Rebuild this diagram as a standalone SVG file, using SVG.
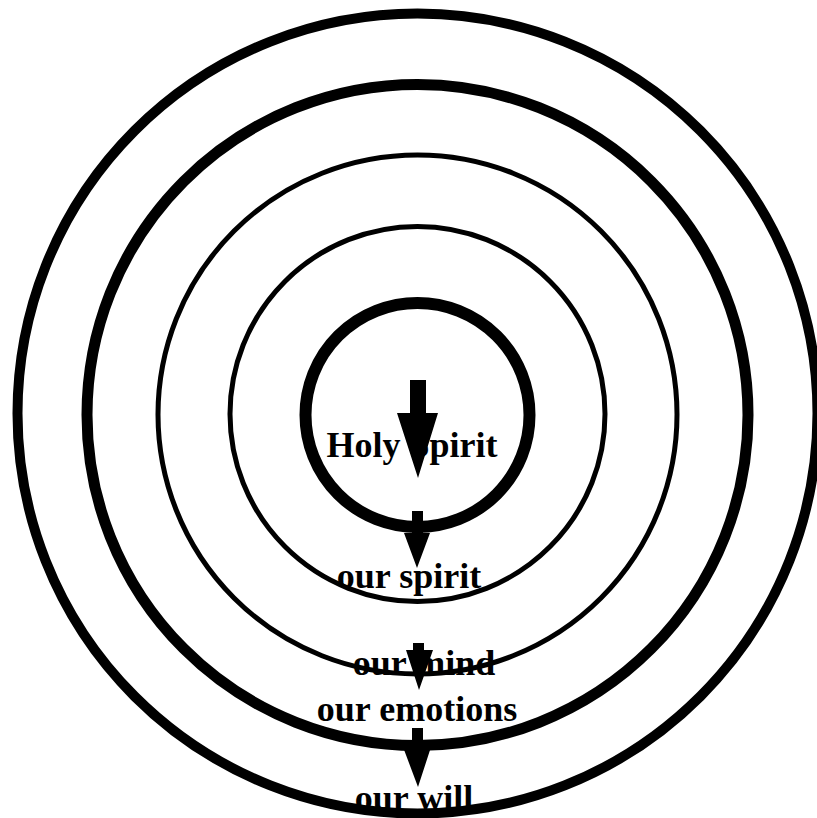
<svg xmlns="http://www.w3.org/2000/svg" width="817" height="818" viewBox="0 0 817 818">
<style>
.ring{fill:none;stroke:#000}
.lbl{font-family:"Liberation Serif","Times New Roman",serif;font-weight:bold;font-size:36px;fill:#000;text-anchor:middle}
.arr{fill:#000;stroke:none}
</style>
<rect width="817" height="818" fill="#fff"/>
<g id="ring-will"><circle class="ring" cx="417.5" cy="413.5" r="400" stroke-width="10"/></g>
<g id="ring-emotions"><circle class="ring" cx="417.5" cy="415" r="330.5" stroke-width="11"/></g>
<g id="ring-mind"><circle class="ring" cx="417.5" cy="414.5" r="259.5" stroke-width="5"/></g>
<g id="ring-spirit"><circle class="ring" cx="417.5" cy="414" r="187.5" stroke-width="5"/></g>
<g id="ring-holy"><circle class="ring" cx="417.5" cy="415" r="112" stroke-width="12"/></g>
<g id="label-holy"><text class="lbl" x="412" y="457">Holy Spirit</text></g>
<g id="label-spirit"><text class="lbl" x="409" y="588">our spirit</text></g>
<g id="label-mind"><text class="lbl" x="424" y="675">our mind</text></g>
<g id="label-emotions"><text class="lbl" x="417" y="721">our emotions</text></g>
<g id="label-will"><text class="lbl" x="414" y="810">our will</text></g>
<g id="connectors">
<polygon class="arr" points="410,380 426,380 426,413 438,413 418,478 397,413 410,413"/>
<polygon class="arr" points="412,511 423,511 423,533 430,533 417,568 404,533 412,533"/>
<polygon class="arr" points="413,643 424,643 424,650 433,650 419,690 406,650 413,650"/>
<polygon class="arr" points="412,728 423,728 423,747 431,747 418,787 403,747 412,747"/>
</g>
</svg>
